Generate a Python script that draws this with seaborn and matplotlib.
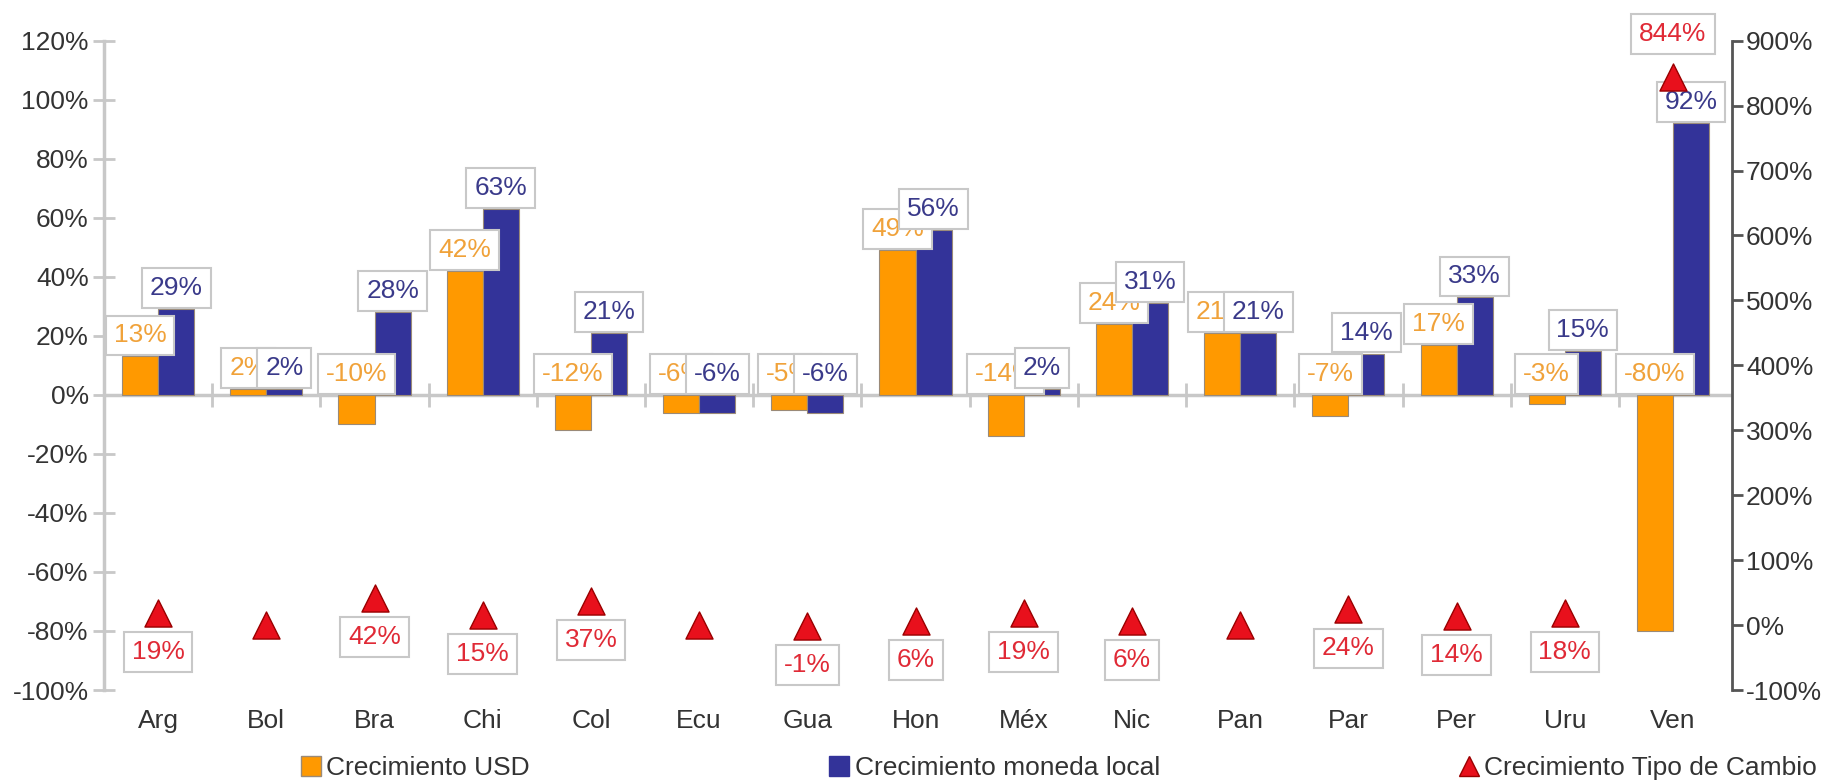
import numpy as np
import pandas as pd
import matplotlib
matplotlib.use("Agg")
import matplotlib.pyplot as plt
from matplotlib.lines import Line2D
import seaborn as sns

# ---------------- data ----------------
countries = ["Arg", "Bol", "Bra", "Chi", "Col", "Ecu", "Gua", "Hon", "Méx",
             "Nic", "Pan", "Par", "Per", "Uru", "Ven"]
usd_growth = [13, 2, -10, 42, -12, -6, -5, 49, -14, 24, 21, -7, 17, -3, -80]
local_growth = [29, 2, 28, 63, 21, -6, -6, 56, 2, 31, 21, 14, 33, 15, 92]
fx_growth = [19, 0, 42, 15, 37, 0, -1, 6, 19, 6, 0, 24, 14, 18, 844]
series_names = ["Crecimiento USD", "Crecimiento moneda local",
                "Crecimiento Tipo de Cambio"]
left_ticks = list(range(-100, 121, 20))
right_ticks = list(range(-100, 901, 100))

# ---------------- style ----------------
ORANGE = "#FF9900"
NAVY = "#333399"
RED = "#E8101C"
ORANGE_TXT = "#F0A23A"
NAVY_TXT = "#3A3A8A"
RED_TXT = "#E02A36"
GRID_GRAY = "#C8C8C8"
TXT = "#333333"
FS = 19

sns.set_style("white")
plt.rcParams["font.family"] = ["Liberation Sans", "DejaVu Sans"]

W, H = 1822, 780
fig = plt.figure(figsize=(W / 100, H / 100), dpi=100)
ax = fig.add_axes([104 / W, 1 - 690 / H, (1732 - 104) / W, (690 - 40.7) / H])

df = pd.DataFrame({
    "pais": countries * 2,
    "valor": usd_growth + local_growth,
    "serie": [series_names[0]] * len(countries) + [series_names[1]] * len(countries),
})

sns.barplot(data=df, x="pais", y="valor", hue="serie", palette=[ORANGE, NAVY],
            width=0.667, gap=0, saturation=1, errorbar=None, legend=False,
            edgecolor="#9A8A78", linewidth=0.8, ax=ax, zorder=3)

# zero line with category-boundary ticks
ax.axhline(0, color=GRID_GRAY, lw=2.5, zorder=2)
ax.vlines(np.arange(len(countries) - 1) + 0.5, -4, 4, color=GRID_GRAY, lw=2, zorder=2)

# data labels on bars
box = dict(boxstyle="square,pad=0.3", fc="white", ec=GRID_GRAY, lw=1.5)
for cont, vals, col, z in zip(ax.containers, [usd_growth, local_growth],
                              [ORANGE_TXT, NAVY_TXT], [6, 7]):
    for bar, v in zip(cont, vals):
        x = bar.get_x() + bar.get_width() / 2
        ax.annotate(f"{v}%", (x, max(v, 0)), xytext=(0, 9),
                    textcoords="offset pixels", ha="center", va="bottom",
                    fontsize=FS, color=col, bbox=box, zorder=z)

ax.set_ylim(-100, 120)
ax.set_yticks(left_ticks)
ax.set_yticklabels([f"{t}%" for t in left_ticks])
ax.set_xlabel("")
ax.set_ylabel("")
for s in ["top", "right", "bottom"]:
    ax.spines[s].set_visible(False)
ax.spines["left"].set_color(GRID_GRAY)
ax.spines["left"].set_linewidth(2.5)
ax.tick_params(axis="y", direction="inout", length=16, width=2, color=GRID_GRAY,
               labelsize=FS, labelcolor=TXT, pad=3)
ax.tick_params(axis="x", length=0, labelsize=FS, labelcolor=TXT, pad=14)

# exchange-rate growth on secondary axis
ax2 = ax.twinx()
sns.scatterplot(x=np.arange(len(countries)), y=fx_growth, marker="^", s=380,
                color=RED, edgecolor="#9A0000", linewidth=1, ax=ax2, zorder=5)
for i, v in enumerate(fx_growth):
    if v == 0:
        continue
    if v > 500:
        ax2.annotate(f"{v}%", (i, v), xytext=(0, 31), textcoords="offset pixels",
                     ha="center", va="bottom", fontsize=FS, color=RED_TXT, bbox=box)
    else:
        ax2.annotate(f"{v}%", (i, v), xytext=(0, -27), textcoords="offset pixels",
                     ha="center", va="top", fontsize=FS, color=RED_TXT, bbox=box)

ax2.set_ylim(-100, 900)
ax2.set_yticks(right_ticks)
ax2.set_yticklabels([f"{t}%" for t in right_ticks])
ax2.set_ylabel("")
for s in ["top", "left", "bottom"]:
    ax2.spines[s].set_visible(False)
ax2.spines["right"].set_color("#555555")
ax2.spines["right"].set_linewidth(2)
ax2.tick_params(axis="y", direction="out", length=8, width=2, color="#555555",
                labelsize=FS, labelcolor=TXT, pad=2)

ax.set_xlim(-0.5, len(countries) - 0.455)
ax.set_xticks(range(len(countries)))
ax.set_xticklabels(countries)

# legend
handles = [
    Line2D([], [], marker="s", ls="", color=ORANGE, markeredgecolor="#9A8A78", ms=15),
    Line2D([], [], marker="s", ls="", color=NAVY, ms=15),
    Line2D([], [], marker="^", ls="", color=RED, markeredgecolor="#9A0000", ms=15),
]
fig.legend(handles, series_names, loc="center left",
           bbox_to_anchor=(300 / W, 1 - 768 / H), ncol=3, frameon=False,
           fontsize=FS, labelcolor=TXT, handlelength=0.8, handletextpad=0.2,
           columnspacing=11.3, borderpad=0, borderaxespad=0)

fig.savefig("out.png", dpi=100, facecolor="white")
